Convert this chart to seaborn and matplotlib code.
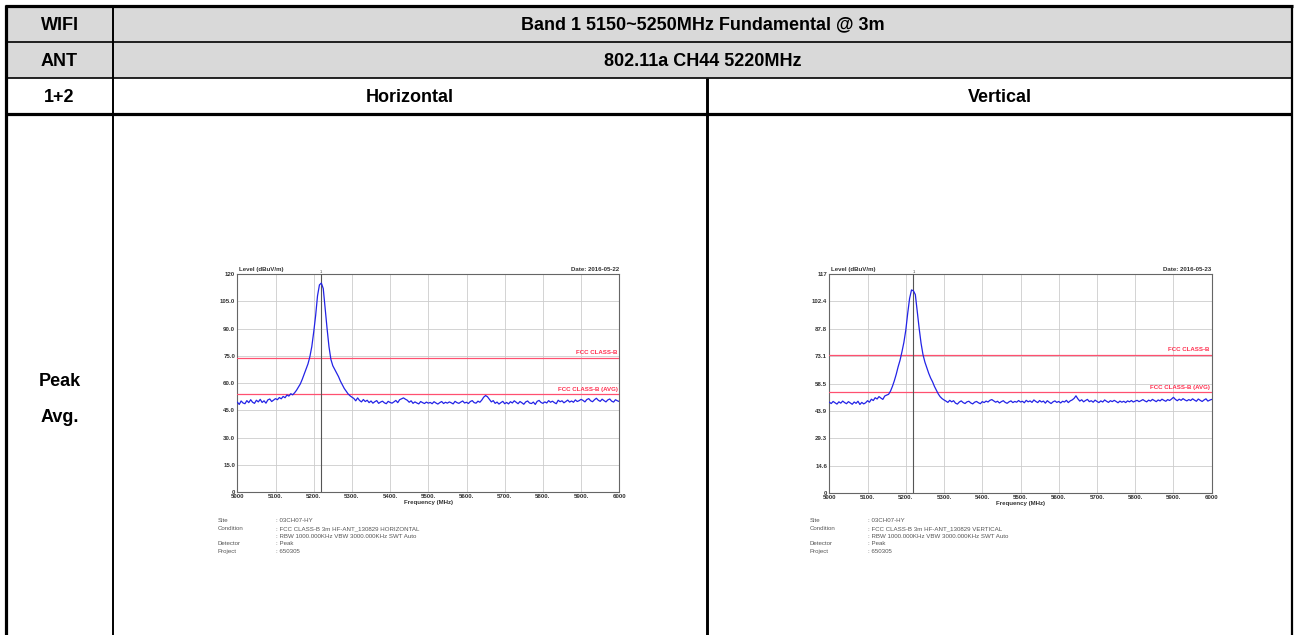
import numpy as np
import pandas as pd
import matplotlib
matplotlib.use("Agg")
import matplotlib.pyplot as plt
import seaborn as sns

# ---------------- data ----------------
freq_start, freq_stop, freq_step = 5000, 6000, 5

h_level = [
    49.5, 48.2, 50.1, 49.0, 48.6, 50.3, 49.2, 50.8, 49.4, 48.8, 50.5, 49.6, 51.0, 49.3, 50.2, 48.9, 50.7, 51.2, 49.8, 50.6, 51.4,
    50.8, 52.0, 51.3, 52.6, 51.9, 53.4, 52.8, 54.1, 53.5, 54.6,
    56.0, 57.8, 59.5, 62.0, 64.8, 67.5, 70.5, 74.5, 80.0, 88.0,
    97.0, 108.0, 114.0, 115.0, 112.0, 101.0, 90.0, 80.0, 73.0, 69.5, 67.5, 65.5, 63.5, 61.0, 59.0, 57.0, 55.5, 54.0, 53.0, 52.2,
    51.5, 50.2, 51.8, 50.4, 49.6, 50.9, 49.8, 50.5, 49.2, 50.1, 48.9, 49.7, 50.3, 48.8, 49.5, 50.0, 49.1, 48.6, 49.9, 49.3,
    48.9, 49.6, 50.4, 49.2, 50.8, 51.3, 51.8, 51.1, 50.5, 49.4, 50.2, 48.8, 49.6, 49.0, 48.5, 49.8, 49.2, 48.7, 49.5, 48.9,
    49.3, 48.6, 49.7, 49.0, 48.4, 49.2, 49.8, 48.7, 49.4, 48.9, 49.6, 49.1, 48.5, 49.9, 49.2, 48.8, 49.5, 50.1, 49.0, 49.4,
    48.7, 49.8, 50.3, 49.2, 48.9, 50.0, 49.4, 50.6, 52.2, 53.1, 52.4, 51.0, 49.6, 50.3, 48.8, 49.5, 48.4, 49.2, 49.9, 48.6,
    49.3, 48.5, 49.7, 49.0, 50.2, 49.4, 48.6, 49.8, 49.1, 48.3, 49.6, 50.1, 49.0, 48.7, 49.5, 48.2, 49.9, 50.4, 49.3, 48.8,
    49.6, 49.0, 50.3, 49.4, 50.0, 49.2, 48.6, 50.5, 49.7, 50.2, 49.1, 49.8, 50.6, 49.5, 50.1, 49.4, 50.7, 49.8, 50.3, 51.0,
    50.4, 49.6, 50.9, 51.4, 50.2, 49.7, 50.8, 51.6, 50.5, 49.9, 51.1, 50.3, 49.6, 50.7, 51.2, 50.0, 49.5, 50.8, 50.2, 49.8,
]

v_level = [
    48.6, 47.9, 49.0, 48.3, 47.6, 48.8, 48.1, 49.2, 48.4, 47.8, 48.9, 48.2, 47.5, 48.7, 48.0, 49.1, 47.4, 48.5, 47.7, 48.3, 49.4,
    48.6, 50.2, 49.5, 51.0, 50.3, 51.6, 50.8, 50.1, 51.9, 52.4,
    52.8, 54.5, 57.0, 60.0, 63.5, 67.5, 71.0, 75.5, 80.5, 87.0,
    96.0, 104.0, 108.5, 108.0, 106.0, 97.0, 88.0, 80.0, 74.0, 70.0, 67.0, 64.0, 61.5, 59.5, 57.0, 55.0, 53.0, 51.5, 50.5, 49.8,
    49.2, 48.5, 49.6, 48.8, 49.4, 48.1, 47.6, 48.7, 49.3, 48.4, 47.9, 48.8, 49.1, 48.2, 47.7, 48.6, 49.0, 48.3, 47.8, 48.9,
    48.4, 49.2, 48.7, 49.6, 50.0, 49.3, 48.6, 49.1, 48.2, 48.9, 49.4, 48.5, 48.0, 48.8, 49.3, 48.4, 49.0, 48.6, 49.5, 48.7,
    49.1, 48.3, 49.6, 48.8, 49.3, 48.5, 49.8, 49.0, 48.4, 49.5, 48.7, 49.2, 48.1, 49.4, 48.6, 47.9, 48.8, 49.3, 48.5, 49.0,
    48.2, 49.1, 48.7, 49.6, 48.4, 49.3, 49.8, 50.6, 52.0, 50.4, 49.2, 49.9, 48.8, 49.5, 50.1, 48.9, 49.4, 48.6, 49.7, 49.0,
    48.4, 49.3, 48.7, 49.8, 49.1, 48.5, 49.4, 48.9, 49.6, 49.0, 48.3, 49.2, 48.6, 49.1, 48.4, 49.3, 48.8, 49.5, 48.7, 49.2,
    49.6, 48.9, 49.4, 50.0, 49.3, 48.8, 49.7, 49.2, 50.1, 49.5, 48.9, 49.8, 49.3, 50.2, 49.6, 49.1, 50.0, 49.5, 50.3, 51.2,
    50.1, 49.4, 50.2, 49.6, 50.5, 49.8, 49.3, 50.0, 49.5, 50.4, 49.7, 49.1, 50.3, 49.6, 49.0, 49.8, 50.4, 49.2, 49.7, 50.1,
]

limit_peak = 74.0
limit_avg = 54.0
h_marker = 5218
v_marker = 5220

h_ymax = 120
v_ymax = 117
h_yticks = [0, 15, 30, 45, 60, 75, 90, 105, 120]
h_ytick_labels = ['0', '15.0', '30.0', '45.0', '60.0', '75.0', '90.0', '105.0', '120']
v_yticks = [0, 14.625, 29.25, 43.875, 58.5, 73.125, 87.75, 102.375, 117]
v_ytick_labels = ['0', '14.6', '29.3', '43.9', '58.5', '73.1', '87.8', '102.4', '117']
x_ticks = [5000, 5100, 5200, 5300, 5400, 5500, 5600, 5700, 5800, 5900, 6000]
x_tick_labels = ['5000', '5100.', '5200.', '5300.', '5400.', '5500.', '5600.', '5700.', '5800.', '5900.', '6000']

h_date = 'Date: 2016-05-22'
v_date = 'Date: 2016-05-23'
info_keys = ['Site', 'Condition', '', 'Detector', 'Project']
h_info_vals = [': 03CH07-HY', ': FCC CLASS-B 3m HF-ANT_130829 HORIZONTAL',
               ': RBW 1000.000KHz VBW 3000.000KHz SWT Auto', ': Peak', ': 650305']
v_info_vals = [': 03CH07-HY', ': FCC CLASS-B 3m HF-ANT_130829 VERTICAL',
               ': RBW 1000.000KHz VBW 3000.000KHz SWT Auto', ': Peak', ': 650305']

row_labels = ['WIFI', 'ANT', '1+2']
header_1 = 'Band 1 5150~5250MHz Fundamental @ 3m'
header_2 = '802.11a CH44 5220MHz'
col_labels = ['Horizontal', 'Vertical']
mode_labels = ['Peak', 'Avg.']

# ---------------- figure ----------------
sns.set_theme(style="white")
plt.rcParams['font.family'] = ['Liberation Sans', 'DejaVu Sans']

W, H = 1298, 635
fig = plt.figure(figsize=(W / 100, H / 100), dpi=100)

# table layer in pixel coordinates
bg = fig.add_axes([0, 0, 1, 1])
bg.set_xlim(0, W)
bg.set_ylim(H, 0)
bg.axis('off')

L, R, T = 6, 1292, 6
r1, r2, r3 = 42, 78, 114
c1, c2 = 113, 707
bg.fill_between([L, R], T, r2, color='#d9d9d9', lw=0, zorder=0)
lk = dict(color='black', solid_capstyle='butt', zorder=2)
bg.plot([L - 1.5, R + 1], [T, T], lw=2.3, **lk)
bg.plot([L, L], [T - 1.5, H], lw=2.3, **lk)
bg.plot([R, R], [T - 1.5, H], lw=1.6, **lk)
bg.plot([L, R], [r1, r1], lw=1.2, **lk)
bg.plot([L, R], [r2, r2], lw=1.2, **lk)
bg.plot([L, R], [r3, r3], lw=2.3, **lk)
bg.plot([c1, c1], [T, H], lw=1.4, **lk)
bg.plot([c2, c2], [r2, H], lw=2.1, **lk)

tk = dict(ha='center', va='center', fontsize=13, fontweight='bold', color='black')
bg.text((L + c1) / 2, (T + r1) / 2 + 1, row_labels[0], **tk)
bg.text((L + c1) / 2, (r1 + r2) / 2 + 1, row_labels[1], **tk)
bg.text((L + c1) / 2, (r2 + r3) / 2 + 1, row_labels[2], **tk)
bg.text((c1 + R) / 2, (T + r1) / 2 + 1, header_1, **tk)
bg.text((c1 + R) / 2, (r1 + r2) / 2 + 1, header_2, **tk)
bg.text((c1 + c2) / 2, (r2 + r3) / 2 + 1, col_labels[0], **tk)
bg.text((c2 + R) / 2, (r2 + r3) / 2 + 1, col_labels[1], **tk)
bg.text((L + c1) / 2, 381, mode_labels[0], **tk)
bg.text((L + c1) / 2, 418, mode_labels[1], **tk)

freqs = np.arange(freq_start, freq_stop + 1, freq_step)

panels = [
    dict(box=(237.3, 274.0, 619.3, 492.0), level=h_level, ymax=h_ymax, yt=h_yticks,
         ytl=h_ytick_labels, marker=h_marker, date=h_date, info=h_info_vals, infox=(218, 276)),
    dict(box=(829.3, 274.0, 1211.7, 493.3), level=v_level, ymax=v_ymax, yt=v_yticks,
         ytl=v_ytick_labels, marker=v_marker, date=v_date, info=v_info_vals, infox=(810, 868)),
]

small = 4.4
for p in panels:
    x0, y0, x1, y1 = p['box']
    ax = fig.add_axes([x0 / W, 1 - y1 / H, (x1 - x0) / W, (y1 - y0) / H])
    df = pd.DataFrame({'Frequency': freqs, 'Level': p['level']})
    sns.lineplot(data=df, x='Frequency', y='Level', ax=ax, color='#2323e6', lw=0.9, zorder=4)
    ax.axhline(limit_peak, color='#ff5070', lw=0.9, zorder=3)
    ax.axhline(limit_avg, color='#ff5070', lw=0.9, zorder=3)
    ax.axvline(p['marker'], color='#555555', lw=0.8, zorder=3)
    ax.text(p['marker'], p['ymax'] * 1.002, '1', fontsize=3, ha='center', va='bottom', color='#444444')
    ax.text(freq_stop - 5, limit_peak + 1.2, 'FCC CLASS-B', color='#ff3050', fontsize=small,
            fontweight='bold', ha='right', va='bottom')
    ax.text(freq_stop - 5, limit_avg + 1.2, 'FCC CLASS-B (AVG)', color='#ff3050', fontsize=small,
            fontweight='bold', ha='right', va='bottom')
    ax.set_xlim(freq_start, freq_stop)
    ax.set_ylim(0, p['ymax'])
    ax.set_xticks(x_ticks)
    ax.set_xticklabels(x_tick_labels, fontweight='bold')
    ax.set_yticks(p['yt'])
    ax.set_yticklabels(p['ytl'], fontweight='bold')
    ax.tick_params(axis='both', length=0, labelsize=small, pad=1.5, colors='#333333')
    ax.grid(True, color='#cccccc', lw=0.6)
    ax.set_xlabel('Frequency (MHz)', fontsize=small, fontweight='bold', labelpad=0.5, color='#333333')
    ax.set_ylabel('')
    for s in ax.spines.values():
        s.set_color('#666666')
        s.set_linewidth(0.8)
    ax.text(0.005, 1.01, 'Level (dBuV/m)', transform=ax.transAxes, fontsize=small,
            fontweight='bold', ha='left', va='bottom', color='#333333')
    ax.text(1.0, 1.01, p['date'], transform=ax.transAxes, fontsize=small,
            fontweight='bold', ha='right', va='bottom', color='#333333')
    kx, vx = p['infox']
    for i, (k, v) in enumerate(zip(info_keys, p['info'])):
        yy = 521 + i * 7.6
        bg.text(kx, yy, k, fontsize=small, ha='left', va='center', color='#555555')
        bg.text(vx, yy, v, fontsize=small, ha='left', va='center', color='#555555')

fig.savefig('out.png', dpi=100)
